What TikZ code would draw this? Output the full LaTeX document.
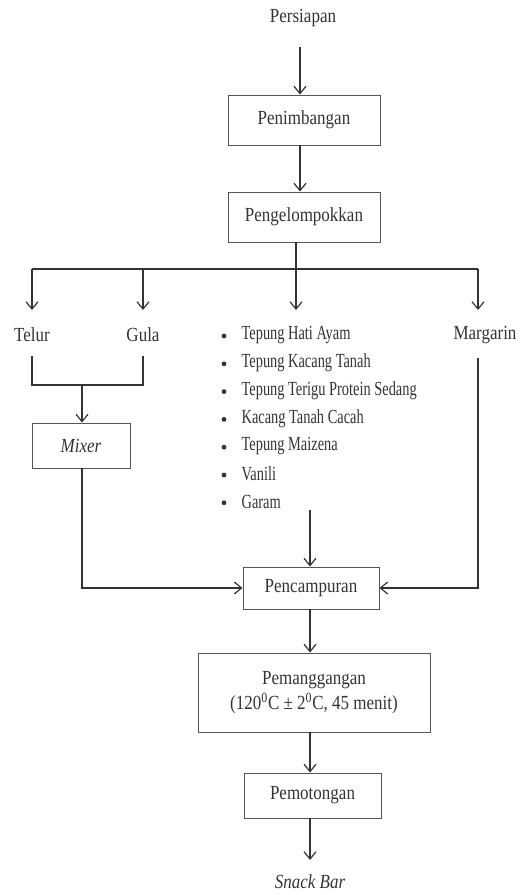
\documentclass[tikz,border=0pt]{standalone}
\usepackage{fontspec}
\setmainfont{Liberation Serif}[FakeStretch=0.85]
\newfontfamily\listfont{Liberation Serif}[FakeStretch=0.72]
\usetikzlibrary{arrows.meta}
\definecolor{ink}{HTML}{333333}
\definecolor{edge}{HTML}{555555}
\begin{document}
\begin{tikzpicture}[x=0.75pt,y=-0.75pt,
  every node/.style={text=ink,font=\fontsize{15}{18}\selectfont,inner sep=1pt},
  line/.style={draw=ink,line width=0.9pt},
  arr/.style={line,-{Straight Barb[length=5.5pt,width=9pt]}},
  box/.style={draw=edge,line width=0.7pt,align=center},
  dot/.style={circle,fill=ink,inner sep=0pt,minimum size=3.6pt}]
\useasboundingbox (0,0) rectangle (531,895);

% nodes
\node (persiapan) at (303,18) {Persiapan};
\node[box,minimum width=114pt,minimum height=37.5pt] (penimb) at (304,120) {Penimbangan};
\node[box,minimum width=114pt,minimum height=37.5pt] (pengel) at (304,217) {Pengelompokkan};
\node (telur) at (32,335) {Telur};
\node (gula) at (143,335) {Gula};
\node (margarin) at (485,335) {Margarin};
\node[box,minimum width=73.5pt,minimum height=33.75pt] (mixer) at (81,445.5) {\itshape Mixer};
\foreach \t [count=\i] in {Tepung Hati Ayam,Tepung Kacang Tanah,Tepung Terigu Protein Sedang,Kacang Tanah Cacah,Tepung Maizena,Vanili,Garam}{
  \node[dot] (b\i) at (224,{336+27.8*(\i-1)}) {};
  \node[anchor=west,font=\listfont\fontsize{15}{18}\selectfont] (l\i) at (240,{335+27.8*(\i-1)}) {\t};
}
\node[box,minimum width=102pt,minimum height=31.5pt] (pencamp) at (311,588) {Pencampuran};
\node[box,minimum width=174pt,minimum height=59.25pt] (pemang) at (314,692.5) {Pemanggangan\\[1pt](120\textsuperscript{0}C ± 2\textsuperscript{0}C, 45 menit)};
\node[box,minimum width=102.75pt,minimum height=33.75pt] (pemot) at (312.5,795.5) {Pemotongan};
\node (snack) at (310,882) {\itshape Snack Bar};

% coordinates
\coordinate (p0) at (300,47);
\coordinate (cx) at (300,0);
\coordinate (br) at (296,269);
\coordinate (bT) at (32,269);
\coordinate (bG) at (143,269);
\coordinate (bM) at (478,269);
\coordinate (eT) at (32,310);
\coordinate (eG) at (143,310);
\coordinate (eL) at (296,310);
\coordinate (eM) at (478,310);
\coordinate (tT) at (32,356);
\coordinate (tG) at (143,356);
\coordinate (jT) at (32,385);
\coordinate (jG) at (143,385);
\coordinate (jM) at (82,385);
\coordinate (mx) at (82,0);
\coordinate (mg) at (478,358);
\coordinate (la) at (310,510);
\coordinate (sb) at (310,860);

% connectors
\draw[arr] (p0) -- (penimb.north -| cx);
\draw[arr] (penimb.south -| cx) -- (pengel.north -| cx);
\draw[line] (pengel.south -| br) -- (br);
\draw[line] (bT) -- (bM);
\draw[arr] (bT) -- (eT);
\draw[arr] (bG) -- (eG);
\draw[arr] (br) -- (eL);
\draw[arr] (bM) -- (eM);
\draw[line] (tT) -- (jT) -- (jG) -- (tG);
\draw[arr] (jM) -- (mixer.north -| mx);
\draw[arr] (mixer.south -| mx) |- (pencamp.west);
\draw[arr] (mg) |- (pencamp.east);
\draw[arr] (la) -- (pencamp.north -| la);
\draw[arr] (pencamp.south -| la) -- (pemang.north -| la);
\draw[arr] (pemang.south -| la) -- (pemot.north -| la);
\draw[arr] (pemot.south -| la) -- (sb);
\end{tikzpicture}
\end{document}
